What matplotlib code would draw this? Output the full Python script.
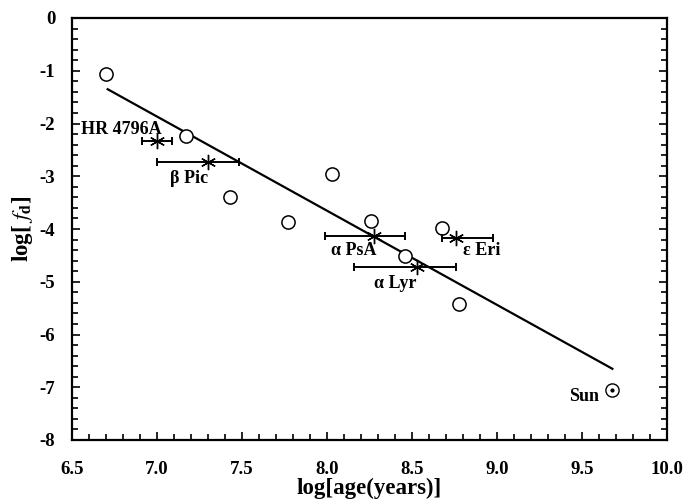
import numpy as np
import matplotlib
matplotlib.use('Agg')
import matplotlib.pyplot as plt
from matplotlib.ticker import MultipleLocator

plt.rcParams['font.family'] = ['Liberation Serif', 'DejaVu Serif']
plt.rcParams['mathtext.fontset'] = 'stix'
plt.rcParams['axes.unicode_minus'] = False

# Open circles: stars with debris disks
age_circ = [6.70, 7.17, 7.43, 7.77, 8.03, 8.26, 8.46, 8.68, 8.78]
fd_circ = [-1.06, -2.24, -3.39, -3.87, -2.96, -3.85, -4.51, -3.98, -5.42]

# Named stars with age error bars
names = ['HR 4796A', 'β Pic', 'α PsA', 'α Lyr', 'ε Eri']
age_star = [7.00, 7.30, 8.28, 8.53, 8.76]
fd_star = [-2.33, -2.73, -4.13, -4.72, -4.17]
age_lo = [6.91, 7.00, 7.99, 8.16, 8.68]
age_hi = [7.09, 7.48, 8.46, 8.76, 8.98]
label_x = [7.03, 7.30, 8.29, 8.53, 8.80]
label_y = [-2.12, -3.05, -4.40, -5.04, -4.40]
label_ha = ['right', 'right', 'right', 'right', 'left']

# Sun
age_sun = 9.68
fd_sun = -7.05

# Fit line
fit_x = [6.71, 9.68]
fit_y = [-1.35, -6.65]

fig = plt.figure(figsize=(6.96, 5.0), dpi=100)
ax = fig.add_axes([0.1034, 0.12, 0.8546, 0.844])

ax.plot(fit_x, fit_y, color='black', lw=1.6, zorder=2)
ax.plot(age_circ, fd_circ, 'o', mfc='white', mec='black', ms=9.5, mew=1.1, zorder=3)

xerr = [np.array(age_star) - np.array(age_lo), np.array(age_hi) - np.array(age_star)]
ax.errorbar(age_star, fd_star, xerr=xerr, fmt='none', ecolor='black', elinewidth=1.4,
            capsize=3, capthick=1.4, zorder=3)
ax.plot(age_star, fd_star, ls='none', marker=(6, 2, 0), color='black', ms=11, mew=1.0, zorder=4)

for n, lx, ly, ha in zip(names, label_x, label_y, label_ha):
    ax.text(lx, ly, n, ha=ha, va='center', fontsize=13, fontweight='bold')

ax.plot(age_sun, fd_sun, 'o', mfc='white', mec='black', ms=9.5, mew=1.0, zorder=3)
ax.plot(age_sun, fd_sun, 'o', color='black', ms=2, zorder=4)
ax.text(age_sun - 0.08, fd_sun - 0.12, 'Sun', ha='right', va='center', fontsize=13, fontweight='bold')

ax.set_xlim(6.5, 10.0)
ax.set_ylim(-8, 0)
ax.xaxis.set_minor_locator(MultipleLocator(0.1))
ax.yaxis.set_major_locator(MultipleLocator(1))
ax.yaxis.set_minor_locator(MultipleLocator(0.2))
xt = np.arange(6.5, 10.01, 0.5)
ax.set_xticks(xt)
ax.set_xticklabels([f'{v:.1f}' for v in xt])
ax.tick_params(which='both', direction='in', left=True, right=True, top=False, bottom=True,
               labelsize=13.5, width=1.2)
ax.tick_params(which='major', length=6)
ax.tick_params(which='minor', length=4)
ax.tick_params(axis='x', which='major', pad=15)
ax.tick_params(axis='y', which='major', pad=12)
for lab in ax.get_xticklabels() + ax.get_yticklabels():
    lab.set_fontweight('bold')
for sp in ax.spines.values():
    sp.set_linewidth(1.6)

ax.set_xlabel('log[age(years)]', fontsize=16.5, fontweight='bold', labelpad=0)
ax.set_ylabel(r'log[ $f_{\mathbf{d}}$]', fontsize=16.5, fontweight='bold', labelpad=3)

fig.savefig('out.png', dpi=100)
